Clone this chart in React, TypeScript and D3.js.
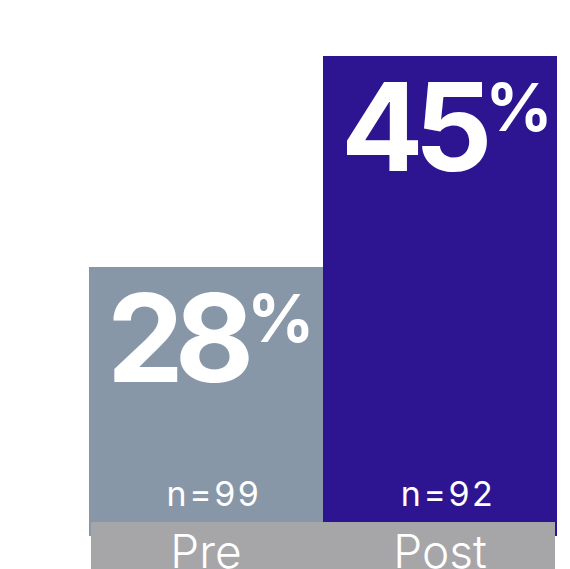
import React from "react";
import * as d3 from "d3";

const categories = ["Pre", "Post"];
const values = [28, 45];
const sampleSizes = ["n=99", "n=92"];
const colors = ["#8797a8", "#2d1490"];

export default function App() {
  const W = 570, H = 569;
  const x = d3.scaleBand<string>().domain(categories).range([89, 557]).paddingInner(0);
  const y = d3.scaleLinear().domain([0, 45]).range([614.5, 56]);
  const clipBottom = 536;
  const font = "Inter, 'Noto Sans', sans-serif";
  return (
    <svg width={W} height={H} style={{ position: "absolute", left: 0, top: 0 }}>
      <rect width={W} height={H} fill="#ffffff" />
      {categories.map((c, i) => {
        const x0 = x(c)!;
        const top = y(values[i]);
        return (
          <g key={c}>
            <rect x={x0} y={top} width={x.bandwidth()} height={clipBottom - top} fill={colors[i]} />
            <text x={x0 + 18} y={top + 115} fill="#fff" fontFamily={font} fontWeight={700} fontSize={122} letterSpacing={-9}>
              {values[i]}
              <tspan fontSize={66} dy={-40} dx={2} letterSpacing={0}>%</tspan>
            </text>
            <text x={x0 + x.bandwidth() / 2 + 8} y={506} fill="#fff" fontFamily={font} fontWeight={400} fontSize={34} textAnchor="middle" letterSpacing={2.5}>
              {sampleSizes[i]}
            </text>
          </g>
        );
      })}
      <rect x={91} y={522} width={464} height={H - 522} fill="#a6a6a8" />
      {categories.map((c) => (
        <text key={c + "l"} x={x(c)! + x.bandwidth() / 2} y={568} fill="#fff" fontFamily={font} fontWeight={300} fontSize={46} textAnchor="middle">
          {c}
        </text>
      ))}
    </svg>
  );
}
